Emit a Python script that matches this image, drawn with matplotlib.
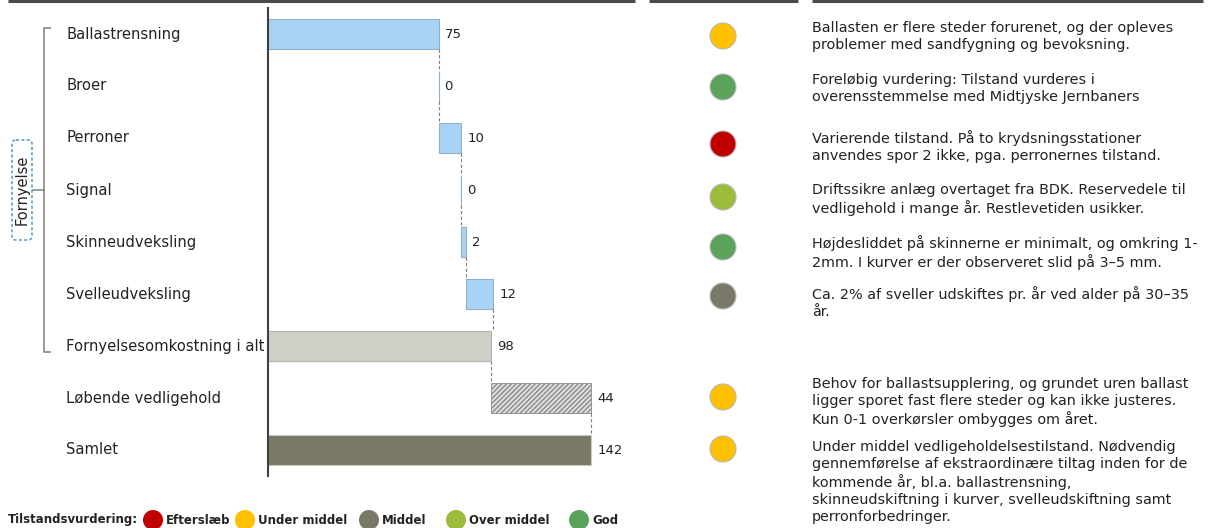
import matplotlib
matplotlib.use("Agg")
import matplotlib.pyplot as plt
from matplotlib.patches import Circle, FancyBboxPatch
from matplotlib.path import Path
from matplotlib.patches import PathPatch

plt.rcParams['font.family'] = ['DejaVu Sans']

W, H = 1214, 528

# waterfall rows (mio. kr.)
categories = ["Ballastrensning", "Broer", "Perroner", "Signal", "Skinneudveksling",
              "Svelleudveksling", "Fornyelsesomkostning i alt", "Løbende vedligehold", "Samlet"]
values = [75, 0, 10, 0, 2, 12, 98, 44, 142]
kinds = ["step", "step", "step", "step", "step", "step", "total", "maint", "total"]

# condition rating per row (None = no rating shown)
ratings = ["Under middel", "God", "Efterslæb", "Over middel", "God", "Middel", None,
           "Under middel", "Under middel"]
comments = [
    "Ballasten er flere steder forurenet, og der opleves\nproblemer med sandfygning og bevoksning.",
    "Foreløbig vurdering: Tilstand vurderes i\noverensstemmelse med Midtjyske Jernbaners",
    "Varierende tilstand. På to krydsningsstationer\nanvendes spor 2 ikke, pga. perronernes tilstand.",
    "Driftssikre anlæg overtaget fra BDK. Reservedele til\nvedligehold i mange år. Restlevetiden usikker.",
    "Højdesliddet på skinnerne er minimalt, og omkring 1-\n2mm. I kurver er der observeret slid på 3–5 mm.",
    "Ca. 2% af sveller udskiftes pr. år ved alder på 30–35\når.",
    None,
    "Behov for ballastsupplering, og grundet uren ballast\nligger sporet fast flere steder og kan ikke justeres.\nKun 0-1 overkørsler ombygges om året.",
    "Under middel vedligeholdelsestilstand. Nødvendig\ngennemførelse af ekstraordinære tiltag inden for de\nkommende år, bl.a. ballastrensning,\nskinneudskiftning i kurver, svelleudskiftning samt\nperronforbedringer.",
]

rating_names = ["Efterslæb", "Under middel", "Middel", "Over middel", "God"]
rating_colors = {"Efterslæb": "#c00000", "Under middel": "#ffc000", "Middel": "#7a7867",
                 "Over middel": "#9bbb3b", "God": "#5ba25a"}

# layout (pixels from top-left)
circle_y = [36, 87, 144, 197, 247, 296, None, 397, 449]
comment_y = [21, 73, 130, 183, 235, 286, None, 377, 440]
legend_x = [153, 245, 369, 456, 579]

fig = plt.figure(figsize=(W / 100, H / 100), dpi=100)

px_per_unit = 2.276
ax = fig.add_axes([268 / W, 1 - 476 / H, 420 / W, 468 / H])
ax.set_xlim(0, 420 / px_per_unit)
ax.set_ylim(len(categories) - 0.5, -0.5)
for s in ["top", "right", "bottom"]:
    ax.spines[s].set_visible(False)
ax.spines["left"].set_color("#404040")
ax.spines["left"].set_linewidth(1.5)
ax.set_xticks([])
ax.set_yticks([])

bar_h = 0.575
running = 0
ends = []
for i, (v, k) in enumerate(zip(values, kinds)):
    if k == "total":
        left = 0
        running = v
    else:
        left = running
        running += v
    ends.append(left + v)
    if k == "step":
        ax.barh(i, v, left=left, height=bar_h, color="#a9d3f5", edgecolor="#8fb0c8", lw=0.8)
    elif k == "maint":
        ax.barh(i, v, left=left, height=bar_h, color="#e0e0e0", edgecolor="#8a8a8a",
                hatch="///////", lw=0.6)
    elif i == len(values) - 1:
        ax.barh(i, v, left=left, height=bar_h, color="#7a7867", edgecolor="#c8c8c0", lw=0.8)
    else:
        ax.barh(i, v, left=left, height=bar_h, color="#d0d0c8", edgecolor="#b4b4ac", lw=0.8)
    ax.text(left + v + 2.6, i, str(v), va="center", ha="left", fontsize=9.5, color="#222222")
    ax.annotate(categories[i], xy=(66, 0), xycoords=("figure pixels", "data"),
                xytext=(66, i), textcoords=("figure pixels", "data"),
                va="center", ha="left", fontsize=10.6, color="#222222", annotation_clip=False)

# dashed connectors between consecutive bars
for i in range(len(values) - 1):
    ax.plot([ends[i], ends[i]], [i + bar_h / 2, i + 1 - bar_h / 2], ls=(0, (3, 2)),
            color="#7f7f7f", lw=0.8)

# overlay for decorations in pixel coordinates
ov = fig.add_axes([0, 0, 1, 1], zorder=-1)
ov.set_xlim(0, W)
ov.set_ylim(H, 0)
ov.axis("off")

for x0, x1 in [(8, 635), (649, 798), (812, 1203)]:
    ov.plot([x0, x1], [1, 1], color="#4a4a4a", lw=2.2, solid_capstyle="butt")

# bracket grouping the renewal rows
verts = [(51, 28), (44, 28), (44, 352), (51, 352)]
codes = [Path.MOVETO, Path.LINETO, Path.LINETO, Path.LINETO]
ov.add_patch(PathPatch(Path(verts, codes), fill=False, edgecolor="#7f7f7f", lw=1.1))
ov.plot([33, 44], [190, 190], color="#7f7f7f", lw=1.1)
ov.add_patch(FancyBboxPatch((12, 140), 20, 100, boxstyle="round,pad=0,rounding_size=4",
                            fill=False, edgecolor="#4a9ac8", ls=(0, (2, 1.5)), lw=1.1))
ov.text(22, 190, "Fornyelse", rotation=90, ha="center", va="center", fontsize=10.5,
        color="#222222")

for r, cy, txt, ty in zip(ratings, circle_y, comments, comment_y):
    if r is None:
        continue
    ov.add_patch(Circle((723, cy), 13, facecolor=rating_colors[r], edgecolor="#b8b8b8", lw=0.8))
    ov.text(812, ty, txt, ha="left", va="top", fontsize=10.4, color="#222222", linespacing=1.27)

# rating legend
ov.text(8, 520, "Tilstandsvurdering:", ha="left", va="center", fontsize=8.5, fontweight="bold",
        color="#222222")
for name, lx in zip(rating_names, legend_x):
    ov.add_patch(Circle((lx, 520), 10, facecolor=rating_colors[name], edgecolor="none"))
    ov.text(lx + 13, 520, name, ha="left", va="center", fontsize=8.5, fontweight="bold",
            color="#222222")

fig.savefig("out.png", dpi=100)
